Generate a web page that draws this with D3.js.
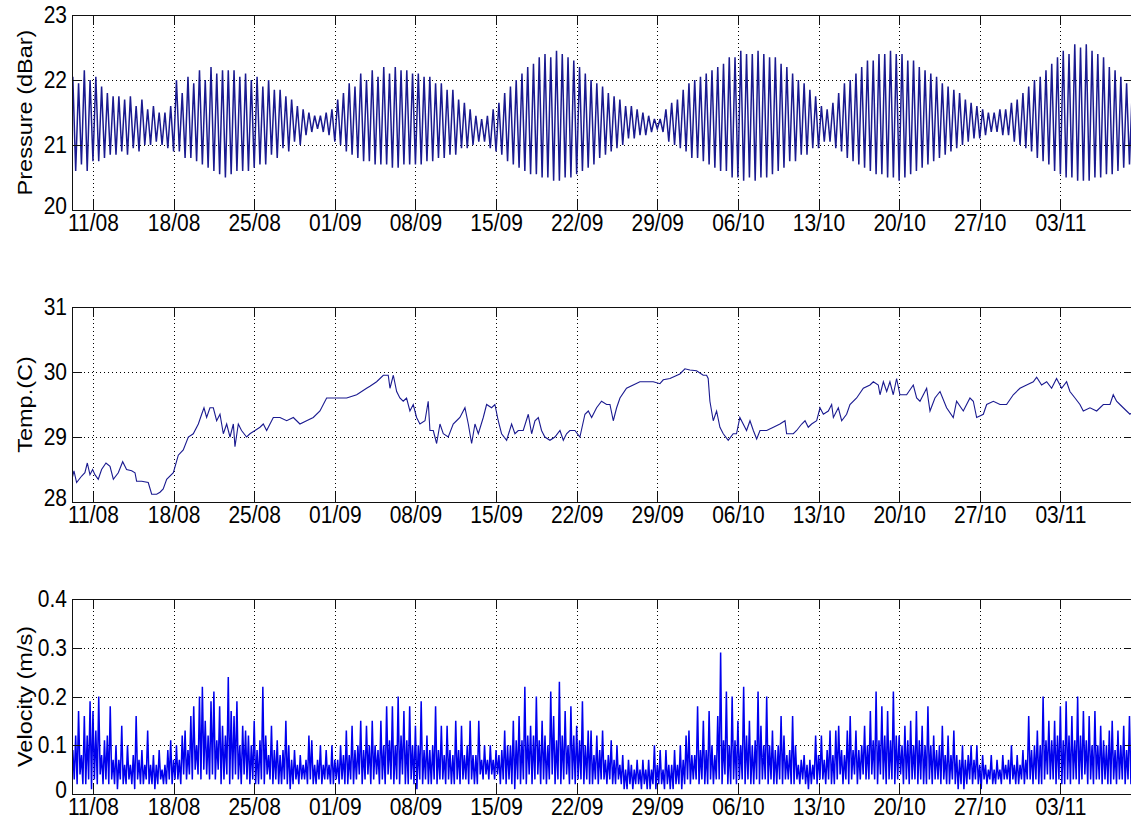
<!DOCTYPE html>
<html>
<head>
<meta charset="utf-8">
<script src="https://cdnjs.cloudflare.com/ajax/libs/d3/7.8.5/d3.min.js"></script>
<style>
  body { margin: 0; background: #fff; }
  text { font-family: "Liberation Sans", Arial, Helvetica, sans-serif; }
</style>
</head>
<body>
<div id="chart"></div>
<script>
// ---- data ----------------------------------------------------------------
// times are "day of August" (32 = 1 Sep, 62 = 1 Oct, 93 = 1 Nov)
const tickDays = [11, 18, 25, 32, 39, 46, 53, 60, 67, 74, 81, 88, 95];
const tickLabels = ["11/08", "18/08", "25/08", "01/09", "08/09", "15/09", "22/09",
  "29/09", "06/10", "13/10", "20/10", "27/10", "03/11"];

// pressure: two high and two low waters a day, starting 9 Aug 06:00, every 12 h
const pressStart = 9.25, pressStep = 0.5;
const pressHigh = [
  22.05, 21.95, 22.15, 22.0, 22.05, 21.9, 21.8, 21.75, 21.75, 21.7, 21.75, 21.6,
  21.7, 21.55, 21.6, 21.5, 21.5, 21.6, 22.0, 21.8, 22.05, 21.95, 22.15, 22.0,
  22.2, 22.1, 22.15, 22.15, 22.15, 22.05, 22.1, 22.0, 22.05, 21.9, 22.0, 21.85,
  21.85, 21.75, 21.7, 21.6, 21.55, 21.5, 21.45, 21.45, 21.5, 21.55, 21.7, 21.8,
  21.95, 21.9, 22.1, 22.0, 22.15, 22.05, 22.2, 22.1, 22.2, 22.15, 22.15, 22.1,
  22.1, 22.05, 22.05, 21.95, 21.95, 21.85, 21.85, 21.7, 21.65, 21.55, 21.45, 21.4,
  21.45, 21.55, 21.65, 21.8, 21.9, 22.0, 22.1, 22.2, 22.25, 22.35, 22.4, 22.35,
  22.45, 22.4, 22.35, 22.3, 22.2, 22.1, 22.0, 21.95, 21.9, 21.8, 21.75, 21.7,
  21.6, 21.6, 21.55, 21.5, 21.45, 21.4, 21.4, 21.55, 21.65, 21.7, 21.85, 21.95,
  22.0, 22.05, 22.1, 22.15, 22.2, 22.25, 22.35, 22.35, 22.45, 22.4, 22.4, 22.45,
  22.4, 22.35, 22.35, 22.25, 22.2, 22.1, 22.0, 21.95, 21.85, 21.75, 21.6, 21.55,
  21.65, 21.8, 21.95, 22.0, 22.1, 22.2, 22.3, 22.3, 22.4, 22.4, 22.45, 22.4,
  22.4, 22.3, 22.3, 22.2, 22.15, 22.1, 22.05, 21.95, 21.9, 21.85, 21.8, 21.7,
  21.65, 21.6, 21.55, 21.5, 21.5, 21.55, 21.55, 21.65, 21.7, 21.8, 21.9, 22.0,
  22.05, 22.15, 22.25, 22.35, 22.45, 22.4, 22.55, 22.5, 22.55, 22.45, 22.4, 22.35,
  22.2, 22.15, 22.05, 21.95, 21.9
];
const pressLow = [
  20.6, 20.7, 20.6, 20.75, 20.75, 20.8, 20.85, 20.85, 20.9, 20.85, 20.95, 20.9,
  21.0, 21.0, 21.05, 21.0, 20.95, 20.9, 20.9, 20.8, 20.8, 20.75, 20.7, 20.65,
  20.6, 20.55, 20.5, 20.55, 20.6, 20.6, 20.6, 20.65, 20.7, 20.7, 20.85, 20.8,
  20.95, 20.9, 21.05, 21.0, 21.15, 21.2, 21.25, 21.2, 21.15, 21.05, 21.0, 20.9,
  20.85, 20.8, 20.75, 20.75, 20.7, 20.7, 20.7, 20.65, 20.65, 20.7, 20.7, 20.7,
  20.7, 20.75, 20.75, 20.8, 20.8, 20.85, 20.85, 20.95, 20.95, 21.0, 21.05, 21.05,
  20.95, 20.9, 20.85, 20.75, 20.7, 20.65, 20.6, 20.55, 20.55, 20.5, 20.5, 20.45,
  20.45, 20.5, 20.5, 20.55, 20.6, 20.65, 20.7, 20.8, 20.85, 20.9, 20.95, 21.0,
  21.1, 21.1, 21.15, 21.15, 21.2, 21.25, 21.2, 21.05, 21.0, 20.95, 20.9, 20.8,
  20.8, 20.75, 20.7, 20.65, 20.6, 20.6, 20.5, 20.5, 20.45, 20.5, 20.45, 20.5,
  20.5, 20.55, 20.6, 20.65, 20.75, 20.75, 20.85, 20.85, 20.95, 20.95, 21.05, 21.05,
  20.95, 20.9, 20.8, 20.75, 20.7, 20.65, 20.6, 20.55, 20.55, 20.5, 20.5, 20.45,
  20.5, 20.55, 20.6, 20.65, 20.7, 20.75, 20.8, 20.85, 20.9, 20.95, 21.0, 21.05,
  21.1, 21.1, 21.15, 21.2, 21.2, 21.15, 21.15, 21.05, 21.0, 20.95, 20.9, 20.8,
  20.75, 20.7, 20.6, 20.55, 20.5, 20.5, 20.45, 20.45, 20.45, 20.5, 20.5, 20.55,
  20.55, 20.6, 20.65, 20.7, 20.7
];

// temperature: points (day of August, deg C)
const tempDay = [
  9.18, 9.35, 9.58, 10.02, 10.3, 10.51, 10.74, 10.97, 11.17, 11.46, 11.75, 12.13,
  12.48, 12.77, 13.2, 13.58, 13.92, 14.36, 14.65, 14.79, 15.23, 15.8, 16.1, 16.53,
  16.82, 17.1, 17.4, 17.98, 18.41, 18.84, 19.28, 19.71, 20.15, 20.44, 20.64, 20.87,
  21.16, 21.45, 21.74, 22.03, 22.32, 22.61, 22.9, 23.19, 23.33, 23.62, 23.9, 24.34,
  24.63, 25.07, 25.5, 25.79, 26.08, 26.66, 27.24, 27.82, 28.4, 28.97, 29.55, 30.13,
  30.71, 31.29, 31.87, 33.03, 33.9, 34.76,
  35.05, 35.63, 36.21, 36.64, 36.79, 37.08, 37.37, 37.65, 37.94, 38.23, 38.52, 38.81,
  39.1, 39.39, 39.83, 40.11, 40.26, 40.55, 40.84, 41.13, 41.42, 41.85, 42.28, 42.57,
  42.86, 43.3, 43.59, 43.88, 44.17, 44.46, 44.89, 45.18, 45.61, 45.9, 46.19, 46.48,
  46.92, 47.35, 47.64, 47.93, 48.36, 48.8, 49.09, 49.38, 49.67, 49.95, 50.24, 50.68,
  51.11, 51.55, 51.84, 52.12, 52.41, 52.85, 53.28, 53.72, 54.01, 54.3, 54.73, 55.16,
  55.6, 55.89, 56.18, 56.47, 56.76, 57.33, 57.91, 58.49, 59.07, 59.65, 60.23, 60.52,
  61.1, 61.96, 62.4, 62.83, 63.41, 63.99, 64.28, 64.42, 64.57, 64.86, 65.15, 65.44,
  65.73, 66.16, 66.59, 66.88, 67.17, 67.46, 67.75,
  68.05, 68.34, 68.63, 68.92, 69.5, 70.08, 70.65, 71.09, 71.23, 71.81, 72.1, 72.54,
  72.83, 73.11, 73.4, 73.84, 74.13, 74.42, 74.85, 75.14, 75.29, 75.72, 76.01, 76.44,
  76.73, 77.31, 77.89, 78.47, 78.76, 79.19, 79.34, 79.63, 79.92, 80.2, 80.49, 80.78,
  81.07, 81.65, 82.23, 82.52, 82.81, 83.39, 83.68, 84.11, 84.55, 85.12, 85.7, 85.99,
  86.57, 87.15, 87.44, 87.73, 88.31, 88.6, 89.18, 89.76, 90.33, 90.91, 91.49, 92.07,
  92.65, 92.94, 93.37, 93.81, 94.24, 94.67, 95.11, 95.54, 95.83, 96.27, 96.7, 96.99,
  97.57, 98.15, 98.73, 99.31, 99.59, 99.88, 100.17, 100.46, 100.75, 101.04, 101.4
];
const tempC = [
  28.35, 28.48, 28.3, 28.4, 28.45, 28.6, 28.42, 28.5, 28.42, 28.35, 28.5, 28.6,
  28.55, 28.35, 28.45, 28.62, 28.5, 28.48, 28.45, 28.32, 28.32, 28.3, 28.12, 28.12,
  28.15, 28.2, 28.35, 28.45, 28.72, 28.8, 29.0, 29.05, 29.2, 29.35, 29.45, 29.3,
  29.45, 29.45, 29.25, 29.35, 29.05, 29.2, 29.0, 29.2, 28.85, 29.2, 29.1, 29.0,
  29.05, 29.1, 29.15, 29.2, 29.1, 29.3, 29.3, 29.25, 29.3, 29.2, 29.25, 29.3,
  29.4, 29.6, 29.6, 29.6, 29.65, 29.75,
  29.78, 29.85, 29.95, 29.95, 29.75, 29.95, 29.7, 29.6, 29.55, 29.6, 29.4, 29.5,
  29.3, 29.2, 29.25, 29.55, 29.1, 29.1, 28.9, 29.2, 29.05, 29.0, 29.2, 29.25,
  29.3, 29.45, 29.2, 28.9, 29.2, 29.05, 29.3, 29.5, 29.45, 29.5, 29.25, 29.05,
  28.95, 29.2, 29.05, 29.1, 29.1, 29.35, 29.05, 29.25, 29.3, 29.1, 29.0, 28.95,
  29.0, 29.1, 28.95, 29.05, 29.1, 29.1, 29.0, 29.35, 29.4, 29.3, 29.45, 29.55,
  29.5, 29.5, 29.25, 29.45, 29.6, 29.75, 29.8, 29.85, 29.85, 29.85, 29.82, 29.88,
  29.9, 29.97, 30.05, 30.03, 30.02, 29.95, 29.95, 29.9, 29.55, 29.25, 29.4, 29.15,
  29.05, 28.95, 29.05, 29.05, 29.3, 29.2, 29.1,
  29.25, 29.1, 28.97, 29.1, 29.1, 29.15, 29.2, 29.25, 29.05, 29.05, 29.1, 29.2,
  29.25, 29.15, 29.2, 29.25, 29.45, 29.35, 29.4, 29.5, 29.3, 29.45, 29.25, 29.35,
  29.5, 29.6, 29.75, 29.8, 29.85, 29.8, 29.65, 29.85, 29.7, 29.85, 29.65, 29.9,
  29.65, 29.65, 29.8, 29.6, 29.55, 29.75, 29.4, 29.6, 29.7, 29.45, 29.3, 29.55,
  29.4, 29.6, 29.55, 29.3, 29.35, 29.5, 29.55, 29.5, 29.5, 29.65, 29.75, 29.8,
  29.85, 29.92, 29.8, 29.85, 29.75, 29.9, 29.75, 29.85, 29.7, 29.6, 29.5, 29.4,
  29.45, 29.4, 29.5, 29.5, 29.65, 29.55, 29.5, 29.45, 29.4, 29.35, 29.4
];

// velocity: one peak and one trough per 6 h, starting 9 Aug 06:00 (m/s)
const velStart = 9.25, velStep = 0.25;
const velPeak = [
  0.09, 0.12, 0.17, 0.08,  0.16, 0.12, 0.19, 0.17,  0.13, 0.2, 0.08, 0.11,
  0.12, 0.18, 0.07, 0.1,   0.07, 0.14, 0.06, 0.1,   0.06, 0.08, 0.16, 0.07,
  0.09, 0.06, 0.13, 0.06,  0.08, 0.06, 0.09, 0.05,  0.06, 0.09, 0.11, 0.07,
  0.1, 0.07, 0.12, 0.13,   0.09, 0.16, 0.18, 0.1,   0.2, 0.22, 0.15, 0.12,
  0.19, 0.21, 0.11, 0.18,  0.14, 0.12, 0.24, 0.17,  0.16, 0.19, 0.1, 0.14,
  0.13, 0.12, 0.1, 0.15,   0.09, 0.11, 0.22, 0.12,  0.08, 0.14, 0.09, 0.11,
  0.08, 0.09, 0.15, 0.1,   0.07, 0.09, 0.06, 0.08,  0.06, 0.07, 0.12, 0.11,
  0.06, 0.07, 0.1, 0.06,   0.09, 0.06, 0.1, 0.07,   0.07, 0.1, 0.08, 0.13,
  0.08, 0.14, 0.09, 0.1,   0.15, 0.09, 0.14, 0.1,   0.15, 0.1, 0.09, 0.15,
  0.1, 0.18, 0.11, 0.18,   0.1, 0.2, 0.12, 0.17,    0.11, 0.18, 0.1, 0.14,
  0.1, 0.19, 0.09, 0.12,   0.09, 0.1, 0.18, 0.09,   0.14, 0.08, 0.14, 0.09,
  0.08, 0.15, 0.09, 0.14,  0.08, 0.1, 0.15, 0.08,   0.08, 0.15, 0.07, 0.1,
  0.07, 0.1, 0.07, 0.09,   0.08, 0.09, 0.13, 0.1,   0.1, 0.15, 0.11, 0.16,
  0.11, 0.22, 0.12, 0.14,  0.12, 0.2, 0.11, 0.15,   0.12, 0.1, 0.21, 0.16,
  0.11, 0.23, 0.12, 0.17,  0.1, 0.18, 0.12, 0.14,   0.11, 0.19, 0.1, 0.13,
  0.13, 0.08, 0.12, 0.09,  0.13, 0.07, 0.08, 0.11,  0.07, 0.1, 0.06, 0.08,
  0.05, 0.07, 0.06, 0.05,  0.07, 0.05, 0.07, 0.05,  0.07, 0.05, 0.1, 0.06,
  0.09, 0.05, 0.09, 0.06,  0.06, 0.09, 0.06, 0.1,   0.07, 0.12, 0.13, 0.08,
  0.08, 0.18, 0.09, 0.15,  0.09, 0.17, 0.1, 0.08,   0.16, 0.29, 0.11, 0.21,
  0.1, 0.2, 0.11, 0.15,    0.1, 0.22, 0.12, 0.15,   0.1, 0.11, 0.21, 0.14,
  0.1, 0.2, 0.1, 0.13,     0.09, 0.1, 0.16, 0.12,   0.08, 0.09, 0.16, 0.1,
  0.06, 0.07, 0.08, 0.06,  0.07, 0.06, 0.12, 0.08,  0.12, 0.07, 0.09, 0.13,
  0.08, 0.13, 0.14, 0.09,  0.08, 0.13, 0.16, 0.09,  0.13, 0.09, 0.1, 0.14,
  0.1, 0.17, 0.11, 0.21,   0.11, 0.18, 0.12, 0.17,  0.11, 0.21, 0.12, 0.12,
  0.1, 0.14, 0.11, 0.15,   0.1, 0.17, 0.11, 0.14,   0.1, 0.18, 0.1, 0.12,
  0.09, 0.1, 0.14, 0.08,   0.12, 0.08, 0.13, 0.08,  0.07, 0.1, 0.07, 0.08,
  0.1, 0.07, 0.1, 0.06,    0.08, 0.06, 0.05, 0.08,  0.05, 0.07, 0.05, 0.08,
  0.06, 0.07, 0.1, 0.06,   0.08, 0.06, 0.09, 0.07,  0.16, 0.09, 0.1, 0.13,
  0.1, 0.2, 0.11, 0.15,    0.11, 0.15, 0.12, 0.18,  0.11, 0.19, 0.12, 0.16,
  0.11, 0.2, 0.12, 0.17,   0.11, 0.16, 0.1, 0.17,   0.1, 0.14, 0.11, 0.1,
  0.13, 0.15, 0.09, 0.13,  0.1, 0.14, 0.09, 0.16
];
const velTrough = [
  0.03, 0.02, 0.04, 0.02,  0.02, 0.03, 0.01, 0.03,  0.02, 0.04, 0.02, 0.03,
  0.02, 0.03, 0.02, 0.01,  0.03, 0.02, 0.02, 0.03,  0.02, 0.01, 0.03, 0.02,
  0.02, 0.03, 0.02, 0.02,  0.01, 0.02, 0.03, 0.02,  0.02, 0.03, 0.02, 0.03,
  0.03, 0.02, 0.04, 0.03,  0.04, 0.03, 0.05, 0.04,  0.03, 0.05, 0.04, 0.03,
  0.04, 0.03, 0.05, 0.02,  0.03, 0.04, 0.02, 0.03,  0.04, 0.03, 0.02, 0.04,
  0.03, 0.02, 0.03, 0.02,  0.02, 0.03, 0.02, 0.04,  0.03, 0.02, 0.03, 0.02,
  0.02, 0.03, 0.02, 0.01,  0.02, 0.03, 0.02, 0.03,  0.03, 0.02, 0.03, 0.02,
  0.02, 0.03, 0.02, 0.03,  0.03, 0.02, 0.02, 0.03,  0.02, 0.03, 0.02, 0.02,
  0.03, 0.02, 0.03, 0.04,  0.02, 0.03, 0.04, 0.02,  0.03, 0.04, 0.02, 0.03,
  0.02, 0.04, 0.03, 0.02,  0.03, 0.02, 0.04, 0.02,  0.02, 0.03, 0.02, 0.01,
  0.03, 0.02, 0.03, 0.02,  0.02, 0.03, 0.02, 0.03,  0.03, 0.02, 0.03, 0.02,
  0.02, 0.03, 0.02, 0.03,  0.03, 0.02, 0.03, 0.02,  0.02, 0.04, 0.03, 0.04,
  0.03, 0.04, 0.03, 0.04,  0.02, 0.03, 0.02, 0.03,  0.02, 0.01, 0.03, 0.02,
  0.03, 0.02, 0.04, 0.02,  0.03, 0.04, 0.02, 0.03,  0.02, 0.03, 0.04, 0.02,
  0.03, 0.02, 0.03, 0.04,  0.02, 0.03, 0.02, 0.03,  0.03, 0.02, 0.03, 0.02,
  0.02, 0.03, 0.02, 0.03,  0.03, 0.02, 0.03, 0.02,  0.02, 0.03, 0.02, 0.01,
  0.01, 0.02, 0.01, 0.02,  0.02, 0.01, 0.02, 0.01,  0.01, 0.02, 0.01, 0.02,
  0.02, 0.01, 0.02, 0.01,  0.01, 0.02, 0.02, 0.01,  0.02, 0.03, 0.02, 0.03,
  0.03, 0.02, 0.03, 0.02,  0.02, 0.03, 0.02, 0.03,  0.03, 0.02, 0.04, 0.02,
  0.02, 0.03, 0.02, 0.03,  0.03, 0.02, 0.03, 0.02,  0.02, 0.03, 0.02, 0.03,
  0.03, 0.02, 0.03, 0.02,  0.02, 0.03, 0.02, 0.03,  0.03, 0.02, 0.02, 0.03,
  0.02, 0.03, 0.02, 0.01,  0.02, 0.03, 0.02, 0.03,  0.03, 0.02, 0.03, 0.02,
  0.02, 0.03, 0.04, 0.02,  0.03, 0.02, 0.03, 0.04,  0.02, 0.03, 0.04, 0.03,
  0.03, 0.04, 0.03, 0.02,  0.04, 0.03, 0.02, 0.03,  0.03, 0.02, 0.03, 0.04,
  0.02, 0.03, 0.02, 0.03,  0.03, 0.02, 0.03, 0.02,  0.02, 0.03, 0.02, 0.03,
  0.03, 0.02, 0.03, 0.02,  0.02, 0.03, 0.02, 0.01,  0.02, 0.01, 0.02, 0.03,
  0.02, 0.03, 0.02, 0.01,  0.03, 0.02, 0.03, 0.02,  0.02, 0.03, 0.02, 0.03,
  0.03, 0.02, 0.03, 0.02,  0.02, 0.03, 0.02, 0.03,  0.03, 0.02, 0.03, 0.02,
  0.02, 0.03, 0.04, 0.03,  0.03, 0.02, 0.03, 0.02,  0.02, 0.03, 0.02, 0.03,
  0.03, 0.02, 0.03, 0.04,  0.02, 0.03, 0.02, 0.03,  0.03, 0.02, 0.03, 0.02,
  0.02, 0.03, 0.02, 0.03,  0.03, 0.02, 0.03, 0.02
];

// ---- build series ---------------------------------------------------------
const aug0 = Date.UTC(2011, 6, 31);
const toDate = d => new Date(aug0 + d * 864e5);

const pressSeries = [];
pressHigh.forEach((v, i) => {
  pressSeries.push({ t: pressStart + i * pressStep, v: v });
  if (i < pressLow.length) pressSeries.push({ t: pressStart + i * pressStep + pressStep / 2, v: pressLow[i] });
});
const tempSeries = tempDay.map((d, i) => ({ t: d, v: tempC[i] }));
const velSeries = [];
velPeak.forEach((v, i) => {
  velSeries.push({ t: velStart + i * velStep, v: v });
  velSeries.push({ t: velStart + i * velStep + velStep / 2, v: velTrough[i] });
});

// ---- layout ---------------------------------------------------------------
const W = 1131, H = 825;
const left = 72, right = 1135, panelH = 195;
const stretch = 1.12;   // text in the original is a little taller than wide
const svg = d3.select("#chart").append("svg")
  .attr("width", W).attr("height", H)
  .style("display", "block");

const x = d3.scaleUtc()
  .domain([toDate(9.18), toDate(101.48)])
  .range([left, right]);

const panels = [
  { top: 15, domain: [20, 23], ticks: [20, 21, 22, 23], fmt: d3.format("d"),
    label: "Pressure (dBar)", data: pressSeries, color: "#1a1a90", width: 1.5 },
  { top: 307, domain: [28, 31], ticks: [28, 29, 30, 31], fmt: d3.format("d"),
    label: "Temp.(C)", data: tempSeries, color: "#1a1a90", width: 1.1 },
  { top: 599, domain: [0, 0.4], ticks: [0, 0.1, 0.2, 0.3, 0.4], fmt: d => d === 0 ? "0" : d3.format(".1f")(d),
    label: "Velocity (m/s)", data: velSeries, color: "#0000ee", width: 1.5 }
];

panels.forEach((p, pi) => {
  const y = d3.scaleLinear().domain(p.domain).range([p.top + panelH, p.top]);
  const g = svg.append("g");

  svg.append("clipPath").attr("id", "clip" + pi)
    .append("rect")
    .attr("x", left).attr("y", p.top)
    .attr("width", right - left).attr("height", panelH);

  // dotted grid
  g.selectAll("line.vgrid").data(tickDays).enter().append("line")
    .attr("class", "vgrid")
    .attr("x1", d => Math.round(x(toDate(d))) + 0.5)
    .attr("x2", d => Math.round(x(toDate(d))) + 0.5)
    .attr("y1", p.top).attr("y2", p.top + panelH)
    .attr("stroke", "#000").attr("stroke-width", 1)
    .attr("stroke-dasharray", "1,3");
  g.selectAll("line.hgrid").data(p.ticks.slice(1, -1)).enter().append("line")
    .attr("class", "hgrid")
    .attr("x1", left).attr("x2", right)
    .attr("y1", d => Math.round(y(d)) + 0.5)
    .attr("y2", d => Math.round(y(d)) + 0.5)
    .attr("stroke", "#000").attr("stroke-width", 1)
    .attr("stroke-dasharray", "1,3");

  // trace
  const line = d3.line()
    .x(d => x(toDate(d.t)))
    .y(d => y(d.v));
  g.append("path")
    .datum(p.data)
    .attr("clip-path", "url(#clip" + pi + ")")
    .attr("fill", "none")
    .attr("stroke", p.color)
    .attr("stroke-width", p.width)
    .attr("stroke-linejoin", "miter")
    .attr("d", line);

  // axes with inward ticks on all four sides
  g.append("g")
    .attr("transform", `translate(0,${p.top + panelH})`)
    .call(d3.axisBottom(x)
      .tickValues(tickDays.map(toDate))
      .tickSizeInner(-10).tickSizeOuter(0).tickPadding(4)
      .tickFormat((d, i) => tickLabels[i]));
  g.append("g")
    .attr("transform", `translate(0,${p.top})`)
    .call(d3.axisTop(x)
      .tickValues(tickDays.map(toDate))
      .tickSizeInner(-10).tickSizeOuter(0)
      .tickFormat(""));
  const ya = g.append("g")
    .attr("transform", `translate(${left},0)`)
    .call(d3.axisLeft(y)
      .tickValues(p.ticks)
      .tickSizeInner(-10).tickSizeOuter(0).tickPadding(5)
      .tickFormat(p.fmt));
  // lowest label sits a little above its tick, as in the original
  ya.selectAll(".tick text").filter(d => d === p.domain[0]).attr("y", -4);
  g.append("g")
    .attr("transform", `translate(${right},0)`)
    .call(d3.axisRight(y)
      .tickValues(p.ticks)
      .tickSizeInner(-10).tickSizeOuter(0)
      .tickFormat(""));

  g.selectAll(".domain").remove();
  g.selectAll(".tick line").attr("stroke", "#111").attr("shape-rendering", "crispEdges");
  g.selectAll(".tick text").attr("font-size", 21).attr("fill", "#000")
    .attr("font-family", '"Liberation Sans", Arial, sans-serif')
    .attr("transform", `scale(1,${stretch})`);

  // box
  g.append("rect")
    .attr("x", left + 0.5).attr("y", p.top + 0.5)
    .attr("width", right - left).attr("height", panelH)
    .attr("fill", "none").attr("stroke", "#111").attr("stroke-width", 1);

  // y label
  g.append("text")
    .attr("transform", `translate(32,${p.top + panelH / 2}) scale(1,${stretch}) rotate(-90)`)
    .attr("text-anchor", "middle")
    .attr("font-size", 21)
    .attr("fill", "#000")
    .text(p.label);
});
</script>
</body>
</html>
